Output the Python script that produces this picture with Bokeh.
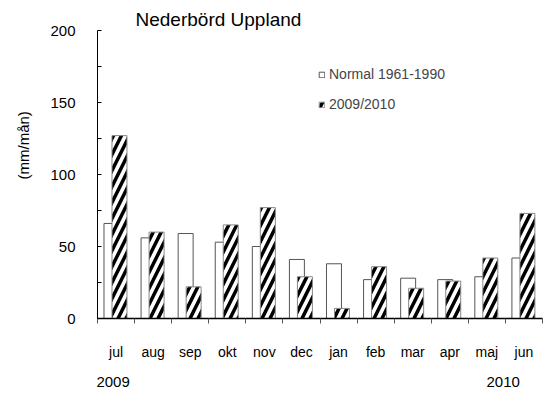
from bokeh.plotting import figure
from bokeh.models import FixedTicker, Range1d, Legend, LegendItem, ColumnDataSource, LinearAxis, Title
from bokeh.embed import file_html
from bokeh.resources import INLINE

months = ["jul", "aug", "sep", "okt", "nov", "dec", "jan", "feb", "mar", "apr", "maj", "jun"]
normal = [66, 56, 59, 53, 50, 41, 38, 27, 28, 27, 29, 42]
season = [127, 60, 22, 65, 77, 29, 7, 36, 21, 26, 42, 73]
y_ticks = [0, 50, 100, 150, 200]
y_minor = [25, 75, 125, 175]
series_names = ["Normal 1961-1990", "2009/2010"]
title_text = "Nederbörd Uppland"
y_label = "(mm/mån)"
year_labels = ["2009", "2010"]
year_pos = [0.42, 10.94]

FONT = "Liberation Sans"
n = len(months)
centers = [i + 0.5 for i in range(n)]

src = ColumnDataSource(dict(
    xn=[c - 0.123 for c in centers],
    xs=[c + 0.093 for c in centers],
    normal=normal,
    season=season,
))

p = figure(width=545, height=405, output_backend="svg", toolbar_location=None,
           x_range=Range1d(0, n), y_range=Range1d(0, 200),
           min_border_left=97, min_border_right=3, min_border_top=30, min_border_bottom=87)
p.outline_line_color = None
p.grid.visible = False
p.background_fill_color = "white"

p.title = Title(text=title_text, text_font=FONT, text_font_size="19px",
                text_font_style="normal", align="left", offset=38,
                text_color="black", standoff=2)

rn = p.vbar(x="xn", top="normal", width=0.404, source=src, fill_color="white",
            line_color="#555555", line_width=1)
rs = p.vbar(x="xs", top="season", width=0.404, source=src, fill_color="white",
            line_color="#888888", line_width=1,
            hatch_pattern="/", hatch_color="black", hatch_scale=16, hatch_weight=3.5)

# x axis (months)
xa = p.xaxis[0]
xa.ticker = FixedTicker(ticks=centers, minor_ticks=list(range(n + 1)))
xa.major_label_overrides = {c: m for c, m in zip(centers, months)}
xa.major_tick_out = 0
xa.major_tick_in = 0
xa.minor_tick_out = 5
xa.minor_tick_in = 0
xa.minor_tick_line_color = "#555555"
xa.axis_line_color = "black"
xa.axis_line_width = 1.5
xa.major_label_standoff = 20
xa.major_label_text_font = FONT
xa.major_label_text_font_size = "14px"
xa.major_label_text_color = "black"

# years axis
ya2 = LinearAxis(ticker=FixedTicker(ticks=year_pos, minor_ticks=[]),
                 major_label_overrides={v: t for v, t in zip(year_pos, year_labels)},
                 axis_line_color=None, major_tick_line_color=None, minor_tick_line_color=None,
                 major_tick_out=0, major_tick_in=0, major_label_standoff=14,
                 major_label_text_font=FONT, major_label_text_font_size="15px",
                 major_label_text_color="black")
p.add_layout(ya2, "below")

# y axis
ya = p.yaxis[0]
ya.ticker = FixedTicker(ticks=y_ticks, minor_ticks=y_minor)
ya.major_tick_in = 4
ya.major_tick_out = 0
ya.minor_tick_in = 4
ya.minor_tick_out = 0
ya.axis_line_color = "black"
ya.major_tick_line_color = "black"
ya.minor_tick_line_color = "black"
ya.major_label_standoff = 22
ya.major_label_text_font = FONT
ya.major_label_text_font_size = "15px"
ya.major_label_text_color = "black"

p.add_layout(Title(text=y_label, text_font=FONT, text_font_size="15px",
                   text_font_style="normal", align="left", offset=139,
                   vertical_align="top", standoff=28, text_color="black"), "left")

legend = Legend(items=[LegendItem(label=series_names[0], renderers=[rn]),
                       LegendItem(label=series_names[1], renderers=[rs])],
                location=(221, 204), orientation="vertical",
                glyph_width=7, glyph_height=7, label_standoff=4, spacing=10,
                padding=0, margin=0, border_line_color=None,
                background_fill_alpha=0,
                label_text_font=FONT, label_text_font_size="14px", label_height=20)
p.add_layout(legend)

open("out.html", "w").write(file_html(p, INLINE))
